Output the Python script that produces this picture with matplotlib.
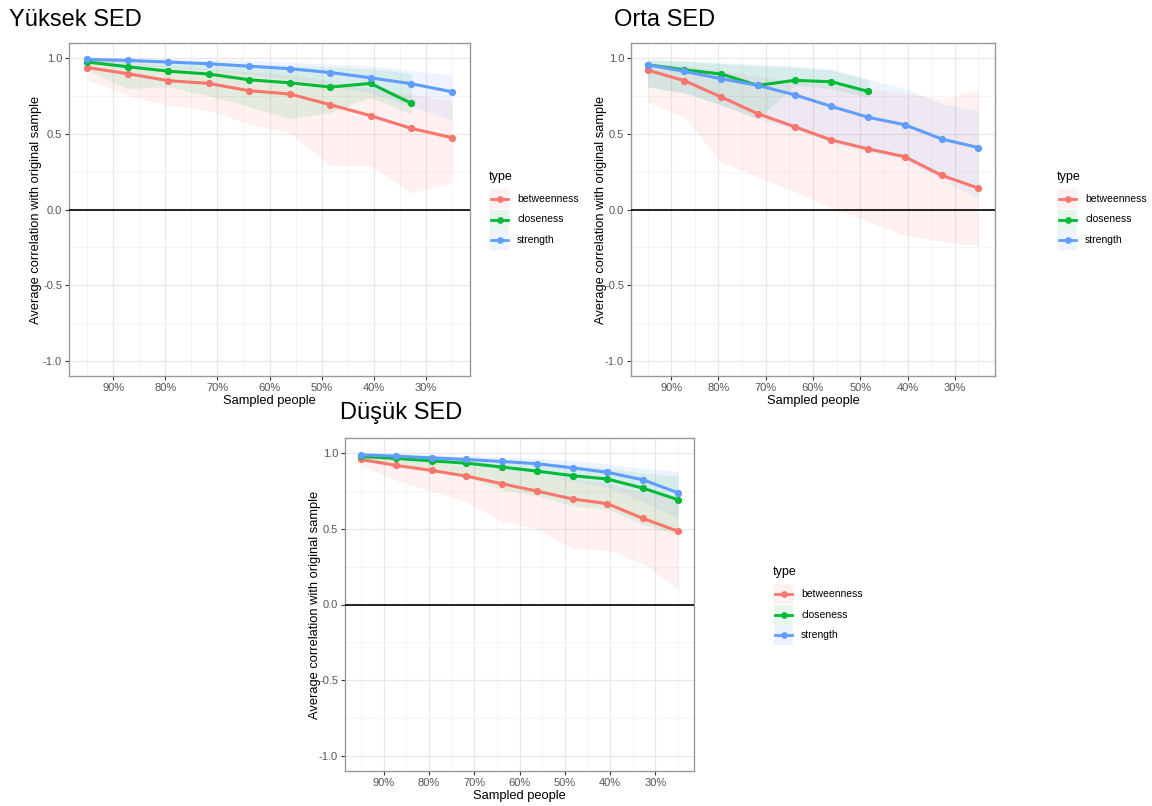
import matplotlib
matplotlib.use('Agg')
import matplotlib.pyplot as plt
from matplotlib.patches import Rectangle
from matplotlib.lines import Line2D

plt.rcParams['font.family'] = ['Liberation Sans', 'DejaVu Sans']

W, H = 1152, 806

types = ['betweenness', 'closeness', 'strength']
colors = ['#F8766D', '#00BA38', '#619CFF']

# proportion of people kept in each subsample (%)
sampled = [95.0, 87.2, 79.4, 71.7, 63.9, 56.1, 48.3, 40.6, 32.8, 25.0]
x_ticks = [90, 80, 70, 60, 50, 40, 30]
x_tick_labels = ['90%', '80%', '70%', '60%', '50%', '40%', '30%']
y_ticks = [-1.0, -0.5, 0.0, 0.5, 1.0]
y_tick_labels = ['-1.0', '-0.5', '0.0', '0.5', '1.0']

# Yüksek SED
yuksek_betw = [0.938, 0.897, 0.851, 0.833, 0.785, 0.763, 0.692, 0.620, 0.536, 0.475]
yuksek_betw_lo = [0.855, 0.755, 0.688, 0.655, 0.565, 0.505, 0.290, 0.290, 0.110, 0.175]
yuksek_betw_hi = [0.99, 0.97, 0.95, 0.93, 0.91, 0.89, 0.85, 0.80, 0.76, 0.72]
yuksek_clos = [0.974, 0.943, 0.914, 0.895, 0.857, 0.837, 0.809, 0.833, 0.702]
yuksek_clos_lo = [0.92, 0.80, 0.81, 0.75, 0.68, 0.60, 0.64, 0.74, 0.63]
yuksek_clos_hi = [0.995, 0.99, 0.98, 0.97, 0.96, 0.95, 0.94, 0.93, 0.90]
yuksek_str = [0.991, 0.985, 0.974, 0.963, 0.947, 0.930, 0.905, 0.870, 0.831, 0.778]
yuksek_str_lo = [0.97, 0.96, 0.94, 0.92, 0.89, 0.86, 0.82, 0.77, 0.68, 0.59]
yuksek_str_hi = [1.0, 1.0, 0.995, 0.99, 0.985, 0.975, 0.96, 0.95, 0.92, 0.89]

# Orta SED
orta_betw = [0.921, 0.851, 0.743, 0.633, 0.547, 0.459, 0.400, 0.349, 0.226, 0.141]
orta_betw_lo = [0.71, 0.61, 0.31, 0.215, 0.12, 0.01, -0.08, -0.17, -0.21, -0.24]
orta_betw_hi = [0.97, 0.95, 0.92, 0.88, 0.85, 0.82, 0.80, 0.77, 0.73, 0.79]
orta_clos = [0.956, 0.923, 0.895, 0.820, 0.853, 0.844, 0.780]
orta_clos_lo = [0.81, 0.77, 0.69, 0.60, 0.82, 0.80, 0.74]
orta_clos_hi = [0.99, 0.98, 0.965, 0.95, 0.94, 0.92, 0.86]
orta_str = [0.956, 0.912, 0.864, 0.820, 0.758, 0.681, 0.609, 0.560, 0.466, 0.409]
orta_str_lo = [0.81, 0.77, 0.69, 0.60, 0.53, 0.44, 0.38, 0.33, 0.20, 0.07]
orta_str_hi = [0.99, 0.98, 0.97, 0.96, 0.95, 0.93, 0.86, 0.80, 0.70, 0.65]

# Düşük SED
dusuk_betw = [0.958, 0.919, 0.886, 0.848, 0.798, 0.749, 0.697, 0.666, 0.569, 0.484]
dusuk_betw_lo = [0.92, 0.82, 0.75, 0.68, 0.55, 0.50, 0.37, 0.36, 0.27, 0.105]
dusuk_betw_hi = [0.98, 0.96, 0.94, 0.92, 0.89, 0.86, 0.83, 0.80, 0.74, 0.70]
dusuk_clos = [0.978, 0.965, 0.949, 0.934, 0.908, 0.881, 0.851, 0.829, 0.769, 0.692]
dusuk_clos_lo = [0.96, 0.93, 0.88, 0.84, 0.76, 0.72, 0.65, 0.63, 0.53, 0.46]
dusuk_clos_hi = [0.99, 0.985, 0.975, 0.965, 0.95, 0.935, 0.92, 0.90, 0.87, 0.85]
dusuk_str = [0.989, 0.980, 0.969, 0.958, 0.945, 0.930, 0.903, 0.873, 0.824, 0.738]
dusuk_str_lo = [0.975, 0.96, 0.94, 0.92, 0.89, 0.86, 0.82, 0.77, 0.68, 0.57]
dusuk_str_hi = [1.0, 0.995, 0.99, 0.985, 0.975, 0.965, 0.95, 0.93, 0.90, 0.88]


def fx(px):
    return px / W


def fy(py):
    return 1 - py / H


panels = [
    dict(title='Yüksek SED', box=(69, 43, 470, 376), title_xy=(9, 20),
         ylab_x=36, xlab_y=401, legend_xy=(489, 177),
         series=[(yuksek_betw, yuksek_betw_lo, yuksek_betw_hi),
                 (yuksek_clos, yuksek_clos_lo, yuksek_clos_hi),
                 (yuksek_str, yuksek_str_lo, yuksek_str_hi)]),
    dict(title='Orta SED', box=(631, 43, 995, 376), title_xy=(614, 20),
         ylab_x=601, xlab_y=401, legend_xy=(1057, 177),
         series=[(orta_betw, orta_betw_lo, orta_betw_hi),
                 (orta_clos, orta_clos_lo, orta_clos_hi),
                 (orta_str, orta_str_lo, orta_str_hi)]),
    dict(title='Düşük SED', box=(345, 438, 694, 771), title_xy=(340, 413),
         ylab_x=315, xlab_y=796, legend_xy=(773, 572),
         series=[(dusuk_betw, dusuk_betw_lo, dusuk_betw_hi),
                 (dusuk_clos, dusuk_clos_lo, dusuk_clos_hi),
                 (dusuk_str, dusuk_str_lo, dusuk_str_hi)]),
]

fig = plt.figure(figsize=(W / 100, H / 100), dpi=100)

for p in panels:
    l, t, r, b = p['box']
    ax = fig.add_axes([fx(l), fy(b), (r - l) / W, (b - t) / H])

    for (mean, lo, hi), col in zip(p['series'], colors):
        xs = sampled[:len(mean)]
        ax.fill_between(xs, lo, hi, color=col, alpha=0.1, linewidth=0)
        ax.plot(xs, mean, color=col, lw=2.2, marker='o', ms=4.2, zorder=4)

    ax.axhline(0, color='black', lw=1.2, zorder=3)

    ax.set_xlim(98.5, 21.5)
    ax.set_ylim(-1.1, 1.1)
    ax.set_xticks(x_ticks)
    ax.set_xticklabels(x_tick_labels)
    ax.set_xticks([95, 85, 75, 65, 55, 45, 35, 25], minor=True)
    ax.set_yticks(y_ticks)
    ax.set_yticklabels(y_tick_labels)
    ax.set_yticks([-0.75, -0.25, 0.25, 0.75], minor=True)
    ax.grid(which='major', color='#e8e8e8', lw=0.9)
    ax.grid(which='minor', color='#f3f3f3', lw=0.6)
    ax.set_axisbelow(True)
    ax.tick_params(which='major', length=3, width=0.8, color='#333333',
                   labelsize=8, labelcolor='#555555', pad=2)
    ax.tick_params(which='minor', length=0)
    for s in ax.spines.values():
        s.set_color('#999999')
        s.set_linewidth(1.0)

    # titles and axis labels in figure coordinates
    fig.text(fx(p['title_xy'][0]), fy(p['title_xy'][1]), p['title'],
             fontsize=17, ha='left', va='center')
    fig.text(fx((l + r) / 2), fy(p['xlab_y']), 'Sampled people',
             fontsize=9.3, ha='center', va='center')
    fig.text(fx(p['ylab_x']), fy((t + b) / 2),
             'Average correlation with original sample',
             fontsize=9.3, ha='center', va='center', rotation=90)

    # legend
    lx, ly = p['legend_xy']
    fig.text(fx(lx), fy(ly), 'type', fontsize=9, ha='left', va='center')
    for i, (name, col) in enumerate(zip(types, colors)):
        cy = ly + 22 + i * 20.5
        fig.add_artist(Rectangle((fx(lx + 1), fy(cy + 10)), 19 / W, 20 / H,
                                 transform=fig.transFigure, facecolor=col,
                                 alpha=0.1, edgecolor='none'))
        fig.add_artist(Line2D([fx(lx + 2), fx(lx + 19)], [fy(cy), fy(cy)],
                              transform=fig.transFigure, color=col, lw=2.0))
        fig.add_artist(Line2D([fx(lx + 10.5)], [fy(cy)], transform=fig.transFigure,
                              color=col, marker='o', ms=3.8, lw=0))
        fig.text(fx(lx + 28), fy(cy), name, fontsize=7.5, ha='left', va='center')

fig.savefig('out.png', dpi=100)
plt.close(fig)
